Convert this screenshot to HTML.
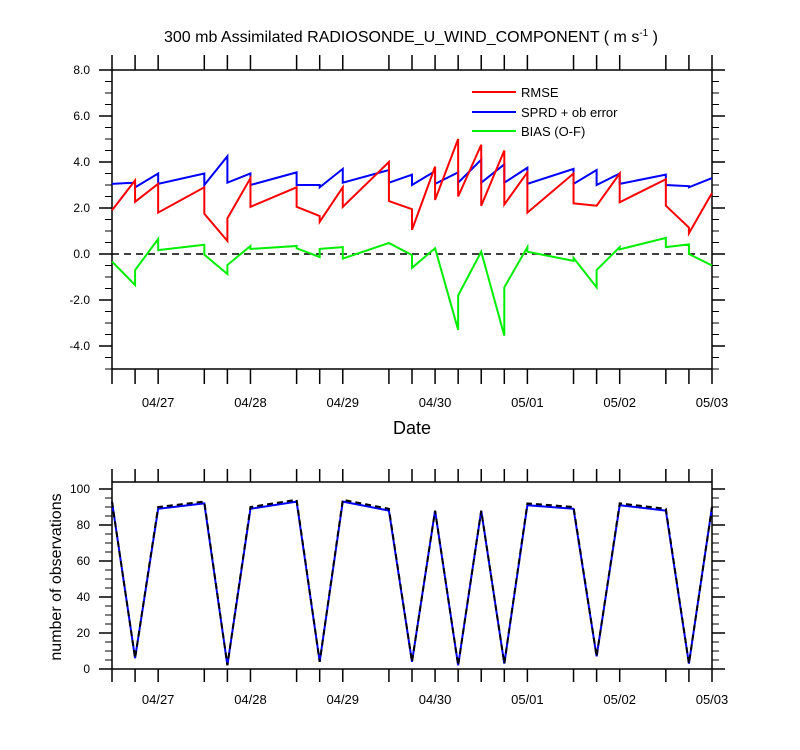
<!DOCTYPE html>
<html><head><meta charset="utf-8">
<style>
html,body{margin:0;padding:0;background:#fff;}
svg{display:block;font-family:"Liberation Sans",sans-serif;}
</style></head>
<body>
<svg id="chart" width="800" height="750" viewBox="0 0 800 750" xmlns="http://www.w3.org/2000/svg">
<text x="411" y="42" font-size="16" text-anchor="middle">300 mb Assimilated RADIOSONDE_U_WIND_COMPONENT ( m s<tspan dy="-6" font-size="10">-1</tspan><tspan dy="6"> )</tspan></text>
<text x="412" y="434" font-size="18" text-anchor="middle">Date</text>
<text x="0" y="0" font-size="16" text-anchor="middle" transform="translate(61,577) rotate(-90)">number of observations</text>
<g id="gtop"></g>
<g id="gbot"></g>
<g>
  <line x1="472" y1="92" x2="516" y2="92" stroke="#ff0000" stroke-width="2"/>
  <text x="521" y="97" font-size="13">RMSE</text>
  <line x1="472" y1="112" x2="516" y2="112" stroke="#0000ff" stroke-width="2"/>
  <text x="521" y="117" font-size="13">SPRD + ob error</text>
  <line x1="472" y1="131" x2="516" y2="131" stroke="#00ee00" stroke-width="2"/>
  <text x="521" y="136" font-size="13">BIAS (O-F)</text>
</g>
</svg>
<script>
const hours = [0,6,12,24,30,36,48,54,60,72,78,84,90,96,102,108,120,126,132,144,150,156];
const dayLabels = ["04/27","04/28","04/29","04/30","05/01","05/02","05/03"];
const dayHours = [12,36,60,84,108,132,156];
const rmseIn  = [1.9,3.2,3.05,2.9,0.57,3.3,2.9,1.65,2.9,4.0,1.95,3.8,5.0,4.75,4.5,3.55,3.5,2.1,3.5,3.25,1.15,2.65];
const rmseOut = [1.9,2.27,1.8,1.75,1.55,2.05,2.05,1.4,2.05,2.3,1.05,2.35,2.5,2.1,2.15,1.8,2.2,2.1,2.25,2.1,0.9,2.65];
const sprdIn  = [3.05,3.1,3.5,3.5,4.25,3.5,3.55,3.0,3.7,3.65,3.45,3.6,3.55,4.1,3.9,3.75,3.7,3.65,3.5,3.45,2.95,3.3];
const sprdOut = [3.05,2.9,3.05,3.0,3.1,3.0,3.0,2.9,3.1,3.1,3.0,3.05,3.1,3.1,3.1,3.05,3.05,3.0,3.05,3.0,2.9,3.3];
const biasIn  = [-0.33,-1.35,0.65,0.4,-0.87,0.35,0.35,-0.13,0.3,0.48,-0.05,0.25,-3.3,0.1,-3.55,0.3,-0.3,-1.45,0.3,0.7,0.42,-0.5];
const biasOut = [-0.33,-0.7,0.17,-0.03,-0.48,0.22,0.25,0.22,-0.2,0.48,-0.6,0.25,-1.8,0.1,-1.45,0.1,-0.17,-0.7,0.2,0.3,0.0,-0.5];
const obsUsed = [93,6,89,92,2,89,93,4,93,88,4,88,2,88,3,91,89,7,91,88,3,90];
const obsTotal = [93,6,90,93,2,90,94,4,94,89,4,88,2,88,3,92,90,7,92,89,3,90];
const topTicks = [-4,-2,0,2,4,6,8];
const botTicks = [0,20,40,60,80,100];

const NS="http://www.w3.org/2000/svg";
const X0=112, X1=712;
const xs = h => X0 + h*(X1-X0)/156;
const yT = v => 254 - v*23;
const yB = v => 669 - v*1.8;
function mk(tag, attrs, parent){const e=document.createElementNS(NS,tag);for(const k in attrs)e.setAttribute(k,attrs[k]);parent.appendChild(e);return e;}

function axes(g, yTop, yBot, yfn, vmin, vmax, minorStep, majors, fmt, name, tickLen, labOff){
  const r = mk('rect',{x:X0,y:yTop,width:X1-X0,height:yBot-yTop,fill:'none',stroke:'#000','stroke-width':1.5},g);
  
  
  for(let v=vmin; v<=vmax+1e-9; v+=minorStep){
    const y=yfn(v); const maj = majors.some(m=>Math.abs(m-v)<1e-6);
    const L = maj?13:7;
    mk('line',{x1:X0-L,y1:y,x2:X0,y2:y,stroke:'#000','stroke-width':maj?1.5:1},g);
    mk('line',{x1:X1,y1:y,x2:X1+L,y2:y,stroke:'#000','stroke-width':maj?1.5:1},g);
  }
  majors.forEach(m=>{
    const t=mk('text',{x:90,y:yfn(m)+4,'font-size':12,'text-anchor':'end'},g);
    
    
    t.textContent=fmt(m);
  });
  hours.forEach(h=>{
    const x=xs(h);
    mk('line',{x1:x,y1:yBot,x2:x,y2:yBot+tickLen,stroke:'#000','stroke-width':1.5},g);
    mk('line',{x1:x,y1:yTop,x2:x,y2:yTop-tickLen,stroke:'#000','stroke-width':1.5},g);
  });
  dayHours.forEach((h,i)=>{
    const t=mk('text',{x:xs(h),y:yBot+labOff,'font-size':13,'text-anchor':'middle'},g);
    
    
    t.textContent=dayLabels[i];
  });
}

function stepLine(g, ins, outs, yfn, color, name){
  let pts=[];
  hours.forEach((h,i)=>{
    const x=xs(h);
    if(i>0) pts.push(x+','+yfn(ins[i]));
    if(i<hours.length-1) pts.push(x+','+yfn(outs[i]));
  });
  const p=mk('polyline',{points:pts.join(' '),fill:'none',stroke:color,'stroke-width':2,'stroke-linejoin':'miter'},g);
  
  
}
function simpleLine(g, vals, yfn, color, dash, name){
  const pts=hours.map((h,i)=>xs(h)+','+yfn(vals[i])).join(' ');
  const a={points:pts,fill:'none',stroke:color,'stroke-width':2};
  if(dash) a['stroke-dasharray']=dash;
  const p=mk('polyline',a,g);
  
  
}

const gTop=document.getElementById('gtop'), gBot=document.getElementById('gbot');
axes(gTop, yT(8), yT(-5), yT, -5, 8, 0.5, topTicks, v=>v.toFixed(1), 'top', 15, 38);
const zl=mk('line',{x1:X0,y1:yT(0),x2:X1,y2:yT(0),stroke:'#000','stroke-width':1.5,'stroke-dasharray':'7,5'},gTop);


stepLine(gTop, sprdIn, sprdOut, yT, '#0000ff', 'sprd-line');
stepLine(gTop, rmseIn, rmseOut, yT, '#ff0000', 'rmse-line');
stepLine(gTop, biasIn, biasOut, yT, '#00ee00', 'bias-line');

axes(gBot, 482, yB(0), yB, 0, 100, 5, botTicks, v=>String(v), 'bottom', 13, 35);
simpleLine(gBot, obsUsed, yB, '#0000ff', null, 'obs-used-line');
simpleLine(gBot, obsTotal, yB, '#000000', '6,4', 'obs-total-line');
</script>
</body></html>
